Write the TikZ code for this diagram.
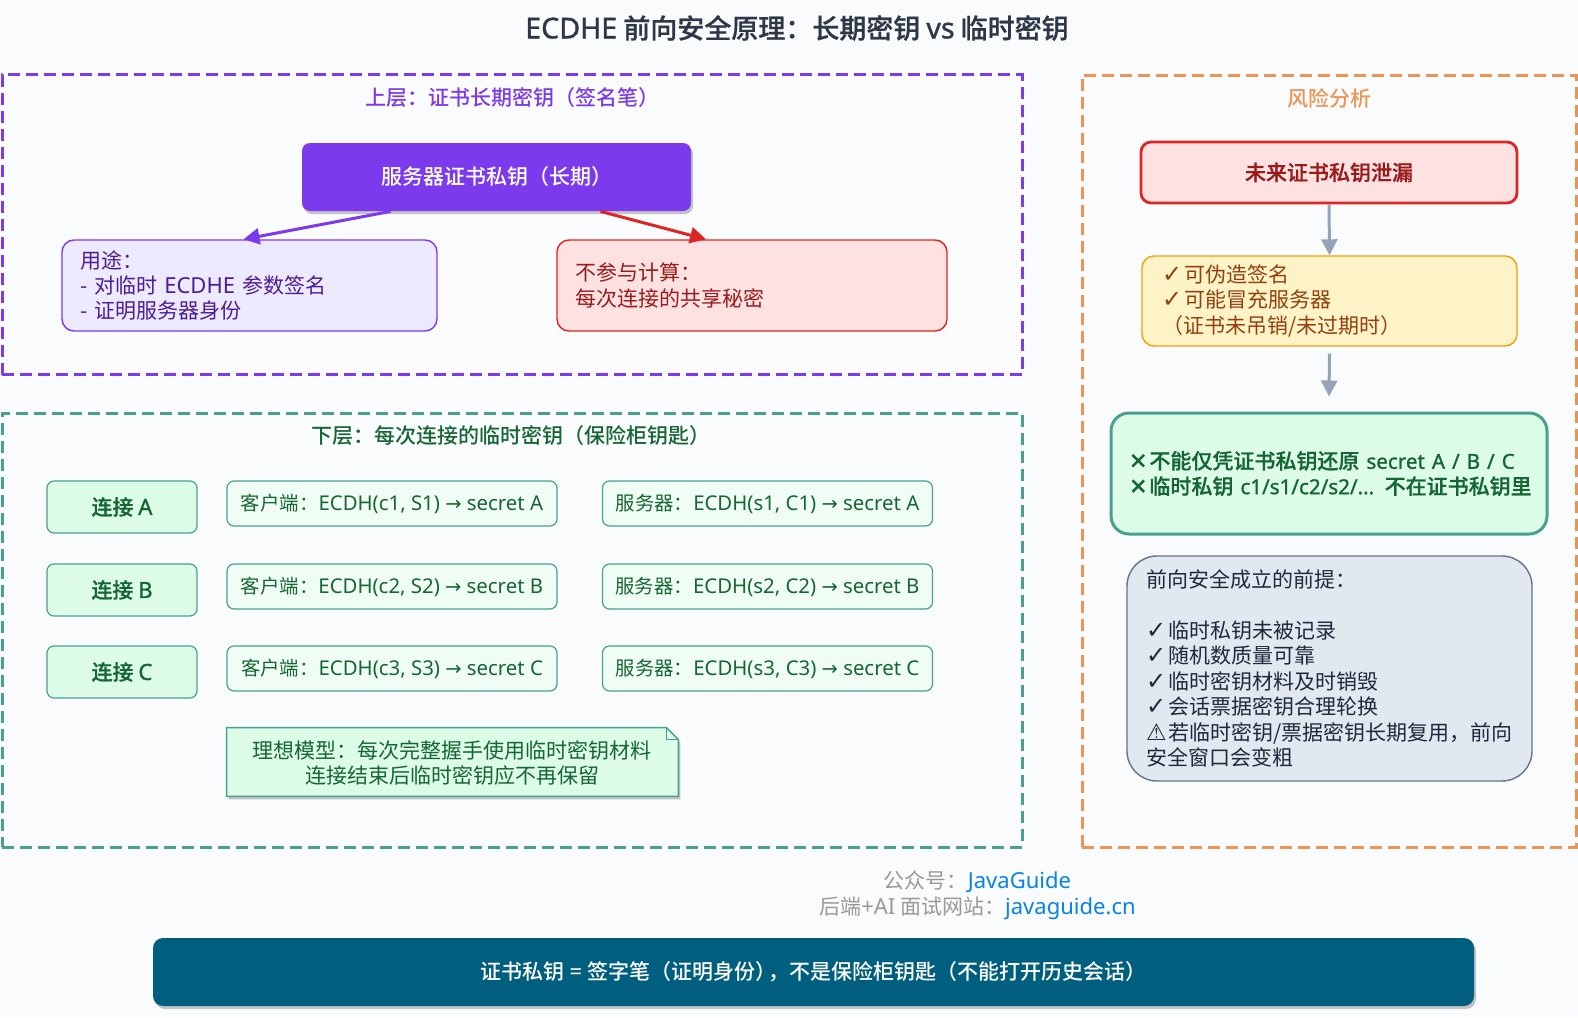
\documentclass[tikz,border=0pt]{standalone}
\usepackage{fontspec}
\setmainfont{Noto Sans CJK SC}
\newfontfamily\midcjk{Noto Sans CJK SC Medium}
\newfontfamily\semicjk{Noto Sans CJK SC Medium}[FakeBold=0.7]
\newfontfamily\en{Noto Sans}[Scale=1.05]
\newfontfamily\enb{Noto Sans}[Scale=1.06,FakeBold=1.2]
\newfontfamily\ens{Noto Sans}[Scale=0.98,FakeBold=1.2]
\newfontfamily\sym{DejaVu Sans}
\newfontfamily\symb{DejaVu Sans}[FakeBold=1.2]
\usetikzlibrary{arrows.meta,shadows}
\definecolor{pagebg}{HTML}{FAFBFD}
\definecolor{titleink}{HTML}{2D3748}
\definecolor{violetline}{HTML}{7C3AED}
\definecolor{violetfill}{HTML}{EDE9FE}
\definecolor{violetink}{HTML}{4C1D95}
\definecolor{redline}{HTML}{DC2626}
\definecolor{redfill}{HTML}{FEE2E2}
\definecolor{redink}{HTML}{991B1B}
\definecolor{orangeline}{HTML}{ED9455}
\definecolor{tealline}{HTML}{4AA08E}
\definecolor{greenfill}{HTML}{DCFCE7}
\definecolor{greenpale}{HTML}{F0FDF4}
\definecolor{greenink}{HTML}{166534}
\definecolor{amberline}{HTML}{F59E0B}
\definecolor{amberfill}{HTML}{FEF3C7}
\definecolor{amberink}{HTML}{92400E}
\definecolor{slateline}{HTML}{64748B}
\definecolor{slatefill}{HTML}{E2E8F0}
\definecolor{slateink}{HTML}{1E293B}
\definecolor{arrowgray}{HTML}{94A3B8}
\definecolor{linkblue}{HTML}{0984E3}
\definecolor{bannerfill}{HTML}{005F7F}
\newcommand{\chk}{{\sym\fontsize{12}{12}\selectfont ✓}\hspace{1pt}}
\newcommand{\warnmark}{{\sym\fontsize{11.5}{12}\selectfont ⚠}\hspace{1pt}}
\newcommand{\crs}{{\symb\fontsize{11}{12}\selectfont ✕}\hspace{1pt}}
\tikzset{
  x=0.5pt, y=-0.5pt,
  every node/.style={font=\fontsize{10.5}{12.7}\selectfont, inner sep=0pt},
  midtext/.style={font=\fontsize{10.5}{12.7}\selectfont\midcjk},
  semitext/.style={font=\fontsize{10.5}{12.7}\selectfont\semicjk},
  softshadow/.style={drop shadow={shadow xshift=1pt, shadow yshift=-1.5pt, opacity=.22, fill=black}},
  framebox/.style={draw=#1, line width=1.5pt, dash pattern=on 6pt off 3pt},
  frametitle/.style={text=#1, midtext},
  plainbox/.style={rounded corners=6pt, align=left, anchor=center},
  tagbox/.style={draw=tealline, fill=greenfill, text=greenink, line width=.6pt, rounded corners=3.5pt,
    minimum width=75pt, minimum height=26pt, semitext},
  calcbox/.style={draw=tealline, fill=greenpale, text=greenink, line width=.6pt, rounded corners=3.5pt,
    minimum width=165pt, minimum height=22.5pt, font=\fontsize{9.7}{12}\selectfont},
  flowarrow/.style={draw=arrowgray, line width=1.5pt, -{Triangle[length=8pt,width=8pt]}},
}
\begin{document}
\begin{tikzpicture}
\fill[pagebg] (0,0) rectangle (1578,1017);
\useasboundingbox (0,0) rectangle (1578,1017);
\node[text=titleink, font=\fontsize{13.5}{16}\selectfont\semicjk] (title) at (797,28) {{\enb ECDHE} 前向安全原理：长期密钥 {\enb vs} 临时密钥};

%--- Upper frame ---
\node[framebox=violetline, minimum width=510pt, minimum height=150pt] (upperframe) at (512,224.5) {};
\node[frametitle=violetline] (uppertitle) at (512,98) {上层：证书长期密钥（签名笔）};
\node[fill=violetline, text=white, rounded corners=4pt, minimum width=194.5pt, minimum height=34pt,
  softshadow, midtext] (serverkey) at (496.5,177) {\raisebox{-1pt}{服务器证书私钥（长期）}};
\node[plainbox, draw=violetline, fill=violetfill, text=violetink, line width=.7pt, text width=169.5pt,
  inner xsep=9pt, minimum height=45.5pt] (usage) at (249.5,285.5) {用途：\\- 对临时 {\en ECDHE} 参数签名\\- 证明服务器身份};
\node[plainbox, draw=redline, fill=redfill, text=redink, line width=.7pt, text width=177pt,
  inner xsep=9pt, minimum height=45.5pt] (nocalc) at (752,285.5) {不参与计算：\\每次连接的共享秘密};
\draw[violetline, line width=1.5pt, -{Triangle[length=8pt,width=8pt]}] ([xshift=-53pt]serverkey.south) -- ([xshift=-3pt]usage.north);
\draw[redline, line width=1.5pt, -{Triangle[length=8pt,width=8pt]}] ([xshift=52pt]serverkey.south) -- ([xshift=-23pt]nocalc.north);

%--- Lower frame ---
\node[framebox=tealline, minimum width=510pt, minimum height=217pt] (lowerframe) at (512,630) {};
\node[frametitle=greenink] (lowertitle) at (511,436) {下层：每次连接的临时密钥（保险柜钥匙）};
\node[tagbox] (tagA) at (122,507) {\raisebox{-.5pt}{连接 {\enb A}}};
\node[tagbox] (tagB) at (122,590) {\raisebox{-.5pt}{连接 {\enb B}}};
\node[tagbox] (tagC) at (122,672) {\raisebox{-.5pt}{连接 {\enb C}}};
\node[calcbox] (clientA) at (392,503.5) {客户端：{\en ECDH(c1, S1) {\sym →} secret A}};
\node[calcbox] (clientB) at (392,586.5) {客户端：{\en ECDH(c2, S2) {\sym →} secret B}};
\node[calcbox] (clientC) at (392,668.5) {客户端：{\en ECDH(c3, S3) {\sym →} secret C}};
\node[calcbox] (serverA) at (767.5,503.5) {服务器：{\en ECDH(s1, C1) {\sym →} secret A}};
\node[calcbox] (serverB) at (767.5,586.5) {服务器：{\en ECDH(s2, C2) {\sym →} secret B}};
\node[calcbox] (serverC) at (767.5,668.5) {服务器：{\en ECDH(s3, C3) {\sym →} secret C}};
% note with folded corner
\node[minimum width=225.5pt, minimum height=34pt] (notebody) at (452.5,762) {};
\filldraw[draw=tealline, fill=greenfill, line width=.7pt, softshadow] (notebody.north west) -- ([xshift=-6pt]notebody.north east)
  -- ([yshift=-6pt]notebody.north east) -- (notebody.south east) -- (notebody.south west) -- cycle;
\draw[tealline, line width=.7pt] ([xshift=-6pt]notebody.north east) -- ([xshift=-6pt,yshift=-6pt]notebody.north east) -- ([yshift=-6pt]notebody.north east);
\node[text=greenink, align=center] (notetext) at (452,763) {理想模型：每次完整握手使用临时密钥材料\\连接结束后临时密钥应不再保留};

%--- Risk frame ---
\node[framebox=orangeline, minimum width=247pt, minimum height=386pt] (riskframe) at (1329,461) {};
\node[frametitle=orangeline] (risktitle) at (1329,98) {风险分析};
\node[draw=redline, fill=redfill, text=redink, line width=1.4pt, rounded corners=5pt, minimum width=188pt, minimum height=30.5pt,
  semitext] (leak) at (1329,172.5) {未来证书私钥泄漏};
\node[plainbox, draw=amberline, fill=amberfill, text=amberink, line width=.7pt, text width=167.5pt,
  inner xsep=10pt, minimum height=45pt] (forge) at (1329.5,301) {\chk 可伪造签名\\\chk 可能冒充服务器\\（证书未吊销/未过期时）};
\node[plainbox, draw=tealline, fill=greenfill, text=greenink, line width=1.5pt, rounded corners=9pt, text width=200pt,
  inner xsep=9pt, minimum height=60.5pt, semitext] (safe) at (1329,473.5)
  {\mbox{\crs 不能仅凭证书私钥还原 {\ens secret A / B / C}}\\\mbox{\crs 临时私钥 {\ens c1/s1/c2/s2/...} 不在证书私钥里}};
\node[plainbox, draw=slateline, fill=slatefill, text=slateink, line width=.7pt, rounded corners=15pt, text width=183.5pt,
  inner xsep=9.5pt, minimum height=112.5pt] (premise) at (1329.5,668.5)
  {前向安全成立的前提：\\[12.7pt]\chk 临时私钥未被记录\\\chk 随机数质量可靠\\\chk 临时密钥材料及时销毁\\\chk 会话票据密钥合理轮换\\\mbox{\warnmark 若临时密钥/票据密钥长期复用，前向}\\安全窗口会变粗};
\draw[flowarrow] (leak.south) -- (forge.north);
\coordinate (safetop) at ([yshift=7.5pt]safe.north);
\draw[flowarrow] ([yshift=-3.5pt]forge.south) -- (safetop);

%--- Footer ---
\node[text=gray!80] (account) at (977.5,882) {公众号：{\color{linkblue}\en JavaGuide}};
\node[text=gray!80] (website) at (977.5,908) {后端{\en +AI} 面试网站：{\color{linkblue}\en javaguide.cn}};
\node[fill=bannerfill, text=white, rounded corners=5pt, minimum width=660.5pt, minimum height=34pt, softshadow,
  midtext] (banner) at (813.5,972) {\raisebox{-1.2pt}{证书私钥 {\en =} 签字笔（证明身份）\hspace{-4pt}，不是保险柜钥匙（不能打开历史会话）}};
\end{tikzpicture}
\end{document}
